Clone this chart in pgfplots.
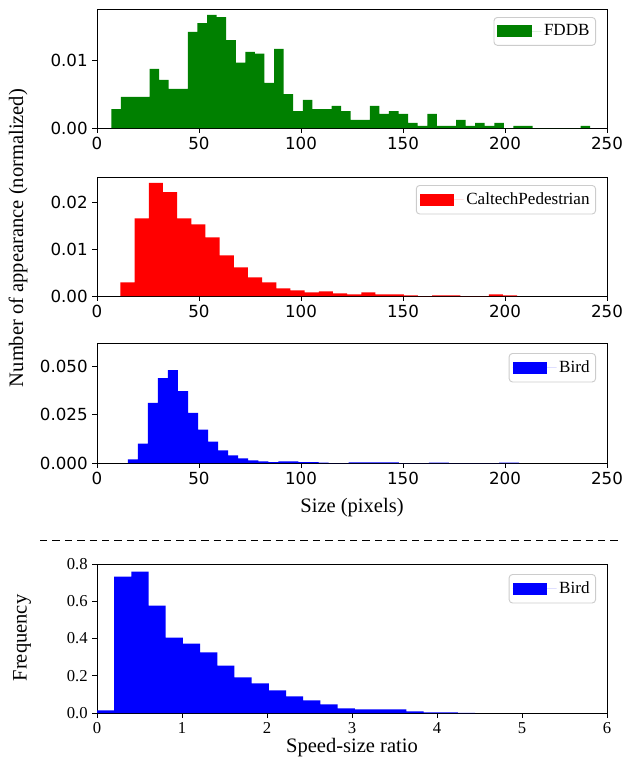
\documentclass[border=0pt]{standalone}
\usepackage{pgfplots}
\pgfplotsset{compat=1.18}
\usepackage{fontspec}
\setmainfont{Liberation Serif}
\newfontfamily\dejavu{DejaVu Sans}
\definecolor{mplgreen}{RGB}{0,128,0}
\definecolor{mplred}{RGB}{255,0,0}
\definecolor{mplblue}{RGB}{0,0,255}
\pgfplotsset{
  common/.style={
    scale only axis, width=382.5pt, xmin=0, xmax=250, ymin=0,
    axis line style={line width=0.6pt},
    tick align=outside, tick pos=left,
    major tick length=3.5pt,
    every tick/.style={black, line width=0.6pt},
    /pgf/number format/assume math mode=true,
    scaled y ticks=false,
    tick label style={font=\dejavu\fontsize{12.5}{13}\selectfont},
    xtick={0,50,...,250},
    legend style={at={(1,1)}, anchor=north east, xshift=-8.25pt, yshift=-6pt,
      draw=black!20, rounded corners=2.5pt, line width=0.7pt,
      font=\fontsize{12.8}{14}\selectfont, inner xsep=2.5pt, inner ysep=3pt,
      nodes={inner xsep=2pt, inner ysep=2.5pt}},
    legend cell align=left,
  },
  histo/.style={draw=none, fill=#1, const plot mark left,
    legend image code/.code={\path (0pt,0pt) -- (33pt,0pt);
      \fill[#1, sharp corners] (0pt,-4.5pt) rectangle (26pt,4.5pt);}},
}
\begin{document}
\begin{tikzpicture}
\useasboundingbox (0,0) rectangle (474pt,-573.75pt);

% Panel 1: FDDB
\begin{axis}[common, at={(72.75pt,-96pt)}, anchor=south west, height=89.25pt,
  ymax=0.0175, ytick={0,0.01},
  yticklabel style={/pgf/number format/.cd, fixed, fixed zerofill, precision=2}]
\addplot[histo=mplgreen] coordinates {
(7.00,0.00279) (11.69,0.00456) (16.39,0.00456) (21.08,0.00456) (25.78,0.00868)
(30.47,0.00706) (35.16,0.00574) (39.86,0.00574) (44.55,0.01412) (49.25,0.01544)
(53.94,0.01662) (58.63,0.01632) (63.33,0.01294) (68.02,0.00961) (72.72,0.01118)
(77.41,0.01093) (82.10,0.00662) (86.80,0.01162) (91.49,0.00500) (96.19,0.00250)
(100.88,0.00412) (105.57,0.00279) (110.27,0.00279) (114.96,0.00324) (119.66,0.00250)
(124.35,0.00118) (129.04,0.00118) (133.74,0.00324) (138.43,0.00206) (143.13,0.00250)
(147.82,0.00206) (152.51,0.00074) (157.21,0.00030) (161.90,0.00206) (166.60,0.00030)
(171.29,0.00030) (175.98,0.00118) (180.68,0.00030) (185.37,0.00074) (190.07,0.00030)
(194.76,0.00074) (199.45,0) (204.15,0.00030) (208.84,0.00030) (213.54,0)
(218.23,0) (222.92,0) (227.62,0) (232.31,0) (237.01,0.00030) (241.70,0)
} \closedcycle;
\addlegendentry{FDDB}
\end{axis}

% Panel 2: CaltechPedestrian
\begin{axis}[common, at={(72.75pt,-222pt)}, anchor=south west, height=89.25pt,
  ymax=0.0253, ytick={0,0.01,0.02},
  yticklabel style={/pgf/number format/.cd, fixed, fixed zerofill, precision=2}]
\addplot[histo=mplred] coordinates {
(11.50,0.00290) (18.44,0.01652) (25.39,0.02404) (32.33,0.02206) (39.28,0.01652)
(46.22,0.01525) (53.16,0.01248) (60.11,0.00865) (67.05,0.00610) (74.00,0.00397)
(80.94,0.00290) (87.88,0.00163) (94.83,0.00120) (101.77,0.00078) (108.72,0.00100)
(115.66,0.00057) (122.60,0.00035) (129.55,0.00078) (136.49,0.00035) (143.44,0.00035)
(150.38,0.00014) (157.32,0) (164.27,0.00014) (171.21,0.00014) (178.16,0)
(185.10,0) (192.04,0.00035) (198.99,0.00014) (205.93,0)
} \closedcycle;
\addlegendentry{CaltechPedestrian}
\end{axis}

% Panel 3: Bird sizes
\begin{axis}[common, at={(72.75pt,-347.25pt)}, anchor=south west, height=90pt,
  ymax=0.0622, ytick={0,0.025,0.05},
  yticklabel style={/pgf/number format/.cd, fixed, fixed zerofill, precision=3},
  legend style={yshift=-1.5pt}]
\addplot[histo=mplblue] coordinates {
(15.10,0.0019) (20.02,0.0101) (24.94,0.0312) (29.86,0.0440) (34.78,0.0481)
(39.70,0.0373) (44.62,0.0260) (49.54,0.0173) (54.46,0.0111) (59.38,0.0065)
(64.30,0.0039) (69.22,0.0024) (74.14,0.0014) (79.06,0.0009) (83.98,0.0004)
(88.90,0.0009) (93.82,0.0009) (98.74,0.0004) (103.66,0.0004) (108.58,0.0002)
(113.50,0) (118.42,0) (123.34,0.0003) (128.26,0.0003) (133.18,0.0003)
(138.10,0.0003) (143.02,0.0003) (147.94,0) (152.86,0) (157.78,0)
(162.70,0.0002) (167.62,0.0002) (172.54,0) (177.46,0) (182.38,0)
(187.30,0) (192.22,0) (197.14,0.0002) (202.06,0.0002) (206.98,0)
} \closedcycle;
\addlegendentry{Bird}
\end{axis}

% Panel 4: speed-size ratio
\begin{axis}[common, at={(72.75pt,-534.75pt)}, anchor=south west, height=111.75pt,
  xmin=0, xmax=6, xtick={0,1,...,6}, ymax=0.8, ytick={0,0.2,...,0.8},
  tick label style={font=\fontsize{12.5}{13}\selectfont},
  yticklabel style={/pgf/number format/.cd, fixed, fixed zerofill, precision=1},
  legend style={yshift=-1.5pt}]
\addplot[histo=mplblue] coordinates {
(0.0000,0.014) (0.2022,0.732) (0.4044,0.759) (0.6066,0.577) (0.8088,0.405)
(1.0110,0.373) (1.2132,0.325) (1.4154,0.255) (1.6176,0.191) (1.8198,0.159)
(2.0220,0.121) (2.2242,0.089) (2.4264,0.068) (2.6286,0.046) (2.8308,0.025)
(3.0330,0.020) (3.2352,0.020) (3.4374,0.020) (3.6396,0.009) (3.8418,0.004)
(4.0440,0.004) (4.2462,0.001) (4.4484,0)
} \closedcycle;
\addlegendentry{Bird}
\end{axis}

\draw[line width=0.7pt, dash pattern=on 5.5pt off 3.8pt] (30pt,-405pt) -- (465pt,-405pt);

\node[rotate=90, font=\fontsize{15.4}{16}\selectfont] at (13.5pt,-178.5pt) {Number of appearance (normalized)};
\node[font=\fontsize{15.4}{16}\selectfont] at (264pt,-381pt) {Size (pixels)};
\node[font=\fontsize{15.4}{16}\selectfont] at (264pt,-561pt) {Speed-size ratio};
\node[rotate=90, font=\fontsize{15.4}{16}\selectfont] at (16.5pt,-478.5pt) {Frequency};
\end{tikzpicture}
\end{document}
